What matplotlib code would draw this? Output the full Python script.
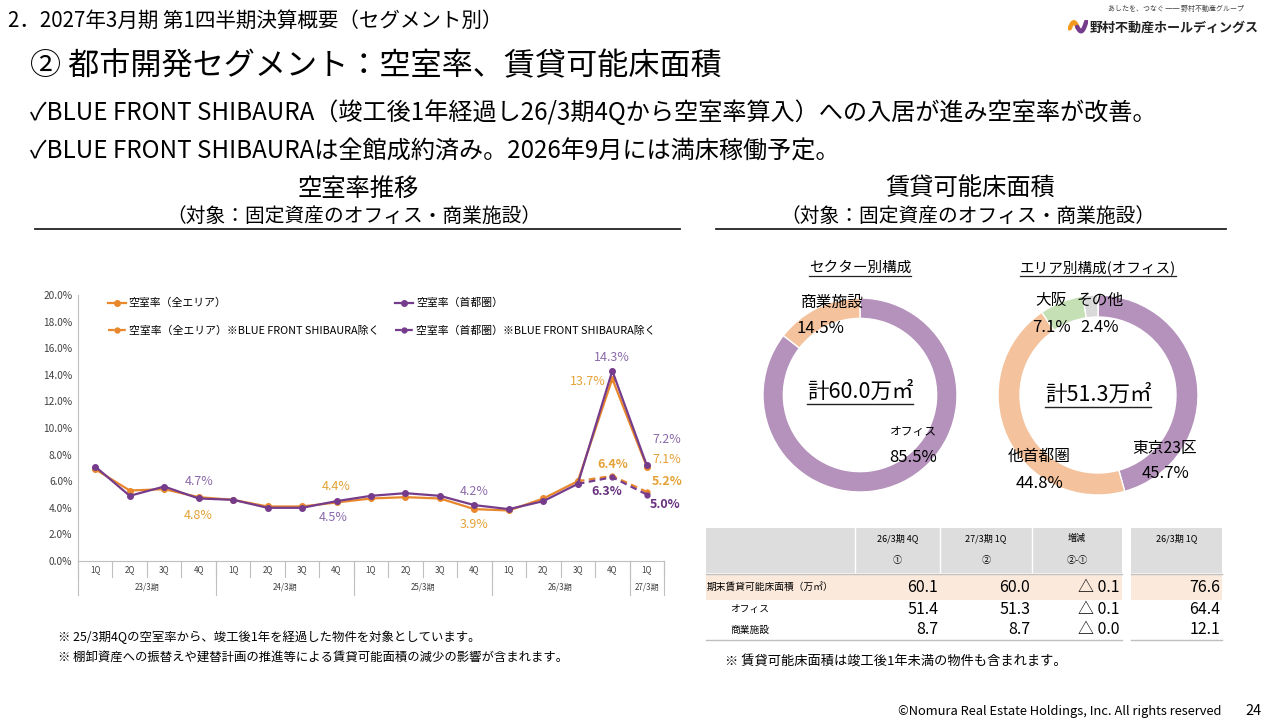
import numpy as np
import matplotlib.pyplot as plt
import matplotlib.transforms as mtrans
from matplotlib.lines import Line2D
from matplotlib.patches import Rectangle
from matplotlib.ticker import FuncFormatter

plt.rcParams['font.family'] = ['Noto Sans CJK JP', 'DejaVu Sans']

# ---------------- data ----------------
quarters = ['1Q', '2Q', '3Q', '4Q'] * 4 + ['1Q']
fiscal_years = ['23/3期', '24/3期', '25/3期', '26/3期', '27/3期']
fy_lengths = [4, 4, 4, 4, 1]

vac_all = [6.9, 5.3, 5.4, 4.8, 4.6, 4.1, 4.1, 4.4, 4.7, 4.8, 4.7, 3.9, 3.8, 4.7, 6.0, 13.7, 7.1]
vac_metro = [7.1, 4.9, 5.6, 4.7, 4.6, 4.0, 4.0, 4.5, 4.9, 5.1, 4.9, 4.2, 3.9, 4.5, 5.8, 14.3, 7.2]
# excluding BLUE FRONT SHIBAURA, from 26/3 3Q onwards
ex_start = 14
vac_all_ex = [6.0, 6.4, 5.2]
vac_metro_ex = [5.8, 6.3, 5.0]

series_names = ['空室率（全エリア）', '空室率（首都圏）',
                '空室率（全エリア）※BLUE FRONT SHIBAURA除く',
                '空室率（首都圏）※BLUE FRONT SHIBAURA除く']

sector_names = ['オフィス', '商業施設']
sector_share = [85.5, 14.5]
sector_total = 60.0
area_names = ['東京23区', '他首都圏', '大阪', 'その他']
area_share = [45.7, 44.8, 7.1, 2.4]
area_total = 51.3

table_rows = ['期末賃貸可能床面積（万㎡）', 'オフィス', '商業施設']
floor_q4 = [60.1, 51.4, 8.7]
floor_q1 = [60.0, 51.3, 8.7]
floor_chg = [-0.1, -0.1, -0.0]
floor_prev = [76.6, 64.4, 12.1]
table_heads = [('26/3期 4Q', '①'), ('27/3期 1Q', '②'), ('増減', '②-①')]
prev_head = '26/3期 1Q'

# ---------------- colours ----------------
ORANGE = '#E8872B'
PURPLE = '#763C8C'
ORANGE_TXT = '#E4A237'
PURPLE_TXT = '#8C6AAA'
PURPLE_BOLD = '#67307E'
DONUT_SECTOR = ['#B592BC', '#F4C29C']
DONUT_AREA = ['#B592BC', '#F4C29C', '#C6E0B5', '#D9D9D9']

fig = plt.figure(figsize=(12.8, 7.2), dpi=100)


def fx(px):
    return px / 1280


def fy(py):
    return 1 - py / 720


def underline(t, pad=3, lw=1.0, color='#222222'):
    fig.canvas.draw()
    bb = t.get_window_extent()
    fig.add_artist(Line2D([bb.x0, bb.x1], [bb.y0 - pad + 2, bb.y0 - pad + 2],
                          transform=mtrans.IdentityTransform(), color=color, lw=lw))


# ---------------- header ----------------
fig.text(fx(8), fy(21), '2．2027年3月期 第1四半期決算概要（セグメント別）', fontsize=14.8, va='center')
fig.text(fx(30), fy(67), '② 都市開発セグメント：空室率、賃貸可能床面積', fontsize=22.4, va='center')
fig.text(fx(30), fy(113), '✓BLUE FRONT SHIBAURA（竣工後1年経過し26/3期4Qから空室率算入）への入居が進み空室率が改善。',
         fontsize=17.4, va='center')
fig.text(fx(30), fy(152), '✓BLUE FRONT SHIBAURAは全館成約済み。2026年9月には満床稼働予定。',
         fontsize=17.4, va='center')

# logo
fig.text(fx(1108), fy(9), 'あしたを、つなぐ ── 野村不動産グループ', fontsize=5, va='center', color='#444444')
fig.text(fx(1090), fy(28), '野村不動産ホールディングス', fontsize=9.4, va='center', fontweight='bold',
         color='#222222')
lax = fig.add_axes([fx(1068), fy(36), 20 / 1280, 16 / 720])
tt = np.linspace(0, 1, 30)
lax.plot(tt * 0.45, np.sin(tt * np.pi * 0.9) * 0.8, color='#F29A1F', lw=3.2, solid_capstyle='round')
lax.plot(0.45 + tt * 0.55, 0.2 - np.sin(tt * np.pi) * 0.9 + tt * 0.7, color=PURPLE, lw=3.2,
         solid_capstyle='round')
lax.set_xlim(-0.1, 1.1)
lax.set_ylim(-1, 1.1)
lax.axis('off')

# section titles
fig.text(fx(358), fy(189), '空室率推移', fontsize=17.5, ha='center', va='center')
fig.text(fx(354), fy(216), '（対象：固定資産のオフィス・商業施設）', fontsize=14.2, ha='center', va='center')
fig.add_artist(Line2D([fx(35), fx(680)], [fy(229), fy(229)], color='#222222', lw=1.3))
fig.text(fx(970), fy(189), '賃貸可能床面積', fontsize=17.5, ha='center', va='center')
fig.text(fx(968), fy(216), '（対象：固定資産のオフィス・商業施設）', fontsize=14.2, ha='center', va='center')
fig.add_artist(Line2D([fx(716), fx(1226)], [fy(229), fy(229)], color='#222222', lw=1.3))

# ---------------- line chart ----------------
ax = fig.add_axes([fx(78), fy(561), (664 - 78) / 1280, (561 - 295) / 720])
xs = np.arange(len(quarters))
xe = np.arange(ex_start, ex_start + len(vac_all_ex))
ax.plot(xs, vac_all, color=ORANGE, lw=1.6, marker='o', ms=4, label=series_names[0], zorder=3)
ax.plot(xe, vac_all_ex, color=ORANGE, lw=1.6, ls=(0, (3, 2)), marker='o', ms=3.5, label=series_names[2], zorder=3)
ax.plot(xs, vac_metro, color=PURPLE, lw=1.6, marker='o', ms=4, label=series_names[1], zorder=4)
ax.plot(xe, vac_metro_ex, color=PURPLE, lw=1.6, ls=(0, (3, 2)), marker='o', ms=3.5, label=series_names[3], zorder=4)

ax.set_xlim(-0.5, len(quarters) - 0.5)
ax.set_ylim(0, 20)
ax.set_yticks(np.arange(0, 20.1, 2))
ax.yaxis.set_major_formatter(FuncFormatter(lambda v, p: f'{v:.1f}%'))
ax.tick_params(axis='y', length=0, labelsize=7.3, labelcolor='#404040', pad=4)
ax.set_xticks([])
for s in ['top', 'right']:
    ax.spines[s].set_visible(False)
for s in ['left', 'bottom']:
    ax.spines[s].set_color('#BFBFBF')
    ax.spines[s].set_linewidth(0.8)

# plotting order already gives [all, all_ex, metro, metro_ex] -> rows: solid / dashed
ax.legend(ncol=2, loc='upper left', bbox_to_anchor=(0.035, 1.025), frameon=False, fontsize=7.8,
          handlelength=1.6, handletextpad=0.3, labelspacing=1.6, columnspacing=1.5)

# category axis
trans = mtrans.blended_transform_factory(ax.transData, ax.transAxes)
for i, q in enumerate(quarters):
    ax.text(i, -0.034, q, transform=trans, ha='center', va='center', fontsize=5.8, color='#404040')
for i in range(len(quarters) + 1):
    ax.plot([i - 0.5, i - 0.5], [0, -0.06], transform=trans, color='#BFBFBF', lw=0.8, clip_on=False)
start = 0
for fyname, n in zip(fiscal_years, fy_lengths):
    ax.plot([start - 0.5, start - 0.5], [0, -0.128], transform=trans, color='#BFBFBF', lw=0.8, clip_on=False)
    ax.text(start + (n - 1) / 2, -0.098, fyname, transform=trans, ha='center', va='center',
            fontsize=5.8, color='#404040')
    start += n
ax.plot([start - 0.5, start - 0.5], [0, -0.128], transform=trans, color='#BFBFBF', lw=0.8, clip_on=False)


def lab(x, y, color, dx, dy, bold=False, ha='center'):
    ax.annotate(f'{y:.1f}%', (x, y), xytext=(dx, dy), textcoords='offset pixels', ha=ha, va='center',
                fontsize=9, color=color, fontweight='bold' if bold else 'normal', annotation_clip=False)


# labels on selected points: (index, dx, dy)
for i, dx, dy in [(3, 0, -18), (7, 0, 16), (11, 0, -15), (15, -24, -3), (16, 20, 7)]:
    lab(i, vac_all[i], ORANGE_TXT, dx, dy)
for i, dx, dy in [(3, 0, 17), (7, -3, -16), (11, 0, 14), (15, 0, 13), (16, 20, 26)]:
    lab(i, vac_metro[i], PURPLE_TXT, dx, dy)
for k, dx, dy in [(1, 0, 11), (2, 20, 10)]:
    lab(xe[k], vac_all_ex[k], ORANGE_TXT, dx, dy, bold=True)
for k, dx, dy in [(1, -6, -14), (2, 18, -10)]:
    lab(xe[k], vac_metro_ex[k], PURPLE_BOLD, dx, dy, bold=True)

fig.text(fx(58), fy(637), '※ 25/3期4Qの空室率から、竣工後1年を経過した物件を対象としています。', fontsize=8.9, va='center')
fig.text(fx(58), fy(658), '※ 棚卸資産への振替えや建替計画の推進等による賃貸可能面積の減少の影響が含まれます。',
         fontsize=8.9, va='center')

# ---------------- donuts ----------------
t1 = fig.text(fx(860), fy(268), 'セクター別構成', fontsize=10.5, ha='center', va='center')
t2 = fig.text(fx(1098), fy(268), 'エリア別構成(オフィス)', fontsize=10.5, ha='center', va='center')
underline(t1, lw=0.9)
underline(t2, lw=0.9)

r1 = 97
dax1 = fig.add_axes([fx(860 - r1), fy(395 + r1), 2 * r1 / 1280, 2 * r1 / 720])
dax1.pie(sector_share, colors=DONUT_SECTOR, startangle=90, counterclock=False, radius=1,
         wedgeprops=dict(width=0.21, edgecolor='white', linewidth=1))
dax1.set_xlim(-1, 1)
dax1.set_ylim(-1, 1)
sector_pos = [((0.55, -0.38), (0.55, -0.64)), ((-0.28, 0.96), (-0.41, 0.69))]
for name, v, (p1, p2) in zip(sector_names, sector_share, sector_pos):
    dax1.text(*p1, name, ha='center', va='center', fontsize=11.3 if name != 'オフィス' else 8.5)
    dax1.text(*p2, f'{v:.1f}%', ha='center', va='center', fontsize=12)
c1 = dax1.text(0, 0.03, f'計{sector_total:.1f}万㎡', ha='center', va='center', fontsize=15.5)

r2 = 100
dax2 = fig.add_axes([fx(1098 - r2), fy(395 + r2), 2 * r2 / 1280, 2 * r2 / 720])
dax2.pie(area_share, colors=DONUT_AREA, startangle=90, counterclock=False, radius=1,
         wedgeprops=dict(width=0.22, edgecolor='white', linewidth=1))
dax2.set_xlim(-1, 1)
dax2.set_ylim(-1, 1)
area_pos = [((0.67, -0.53), (0.67, -0.79)), ((-0.59, -0.61), (-0.59, -0.89)),
            ((-0.47, 0.95), (-0.47, 0.68)), ((0.02, 0.95), (0.02, 0.67))]
for name, v, (p1, p2) in zip(area_names, area_share, area_pos):
    dax2.text(*p1, name, ha='center', va='center', fontsize=11.3)
    dax2.text(*p2, f'{v:.1f}%', ha='center', va='center', fontsize=12)
c2 = dax2.text(0, 0.0, f'計{area_total:.1f}万㎡', ha='center', va='center', fontsize=15.5)
underline(c1, lw=1.0)
underline(c2, lw=1.0)

# ---------------- table ----------------
col_edges = [706, 855, 940, 1032, 1122]
fig.add_artist(Rectangle((fx(706), fy(573)), (1122 - 706) / 1280, 45 / 720, color='#DDDDDD', lw=0))
fig.add_artist(Rectangle((fx(1131), fy(573)), (1222 - 1131) / 1280, 45 / 720, color='#DDDDDD', lw=0))
fig.add_artist(Rectangle((fx(706), fy(600)), (1122 - 706) / 1280, 26 / 720, color='#FBE9DC', lw=0))
fig.add_artist(Rectangle((fx(1131), fy(600)), (1222 - 1131) / 1280, 26 / 720, color='#FBE9DC', lw=0))
for xe_ in col_edges[1:-1]:
    fig.add_artist(Line2D([fx(xe_), fx(xe_)], [fy(528), fy(573)], color='white', lw=1))
for a, b in [(706, 1122), (1131, 1222)]:
    fig.add_artist(Line2D([fx(a), fx(b)], [fy(574), fy(574)], color='#BFBFBF', lw=1))
    fig.add_artist(Line2D([fx(a), fx(b)], [fy(640), fy(640)], color='#BFBFBF', lw=1))

for (h1, h2), a, b in zip(table_heads, col_edges[1:-1], col_edges[2:]):
    fig.text(fx((a + b) / 2), fy(538), h1, ha='center', va='center', fontsize=6.5)
    fig.text(fx((a + b) / 2), fy(561), h2, ha='center', va='center', fontsize=6.5)
fig.text(fx(1177), fy(538), prev_head, ha='center', va='center', fontsize=6.5)

row_y = [587, 609, 630]
for k, name in enumerate(table_rows):
    fig.text(fx(707 if k == 0 else 730), fy(row_y[k]), name, ha='left', va='center', fontsize=7)
    vals = [f'{floor_q4[k]:.1f}', f'{floor_q1[k]:.1f}', f'△ {abs(floor_chg[k]):.1f}']
    for v, right in zip(vals, col_edges[2:]):
        fig.text(fx(right - 2), fy(row_y[k]), v, ha='right', va='center', fontsize=11.5)
    fig.text(fx(1220), fy(row_y[k]), f'{floor_prev[k]:.1f}', ha='right', va='center', fontsize=11.5)

fig.text(fx(725), fy(662), '※ 賃貸可能床面積は竣工後1年未満の物件も含まれます。', fontsize=9.5, va='center')

# ---------------- footer ----------------
fig.text(fx(1222), fy(712), '©Nomura Real Estate Holdings, Inc. All rights reserved', fontsize=9.3,
         ha='right', va='center')
fig.text(fx(1262), fy(711), '24', fontsize=10.5, ha='right', va='center')

fig.savefig('out.png', dpi=100)
